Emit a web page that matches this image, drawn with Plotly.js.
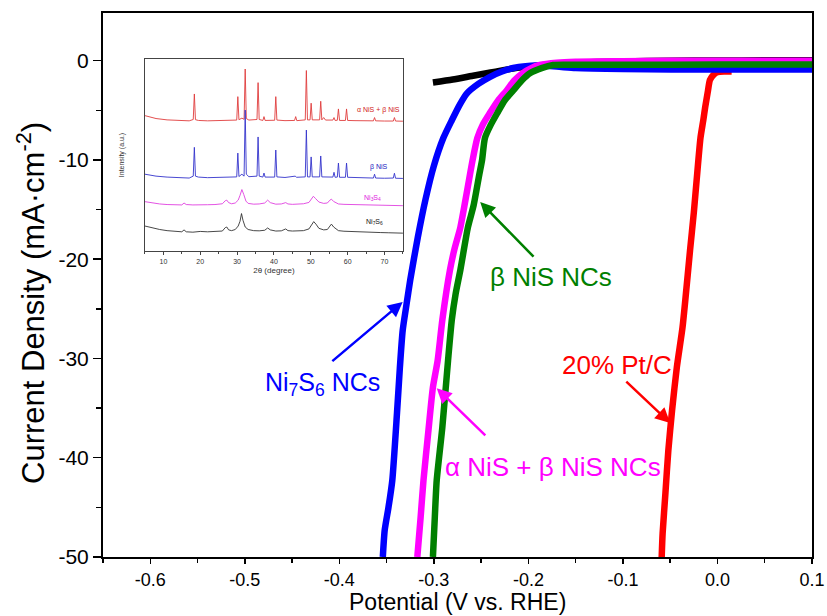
<!DOCTYPE html>
<html>
<head>
<meta charset="utf-8">
<script src="https://cdn.plot.ly/plotly-3.0.1.min.js"></script>
<style>html,body{margin:0;padding:0;background:#fff;}#chart{width:827px;height:616px;}</style>
</head>
<body>
<div id="chart"></div>
<script>
// ---- Main LSV curves (Potential V vs RHE, current density mA/cm2) ----
const blackV = [-0.301, -0.28, -0.26, -0.24, -0.22, -0.20, -0.18, -0.15, -0.10, -0.05, 0.00, 0.05, 0.10];
const blackJ = [-2.2, -1.9, -1.55, -1.2, -0.85, -0.6, -0.4, -0.2, -0.08, 0.0, 0.02, 0.03, 0.03];

const redV = [-0.059, -0.058, -0.055, -0.052, -0.048, -0.043, -0.037, -0.034, -0.029, -0.025, -0.022, -0.018, -0.015, -0.013, -0.010, -0.008, -0.004, 0.000, 0.008, 0.015];
const redJ = [-50, -47.6, -43.5, -39.3, -35.2, -30.9, -26.9, -24.1, -19.1, -15.3, -12.0, -7.8, -6.0, -4.7, -3.0, -1.95, -1.4, -1.15, -1.1, -1.1];

const blueV = [-0.354, -0.352, -0.348, -0.344, -0.339, -0.336, -0.333, -0.329, -0.325, -0.317, -0.309, -0.300, -0.290, -0.281, -0.273, -0.265, -0.253, -0.241, -0.228, -0.216, -0.203, -0.191, -0.17, -0.15, -0.10, 0.00, 0.10];
const blueJ = [-50, -47.3, -45.0, -42.3, -35.5, -31.0, -27.2, -24.6, -22.1, -17.8, -14.05, -10.6, -7.8, -6.0, -4.5, -3.3, -2.35, -1.65, -1.1, -0.74, -0.55, -0.5, -0.6, -0.75, -0.85, -0.9, -0.9];

const magV = [-0.3175, -0.314, -0.311, -0.306, -0.301, -0.296, -0.291, -0.283, -0.278, -0.272, -0.265, -0.259, -0.254, -0.248, -0.241, -0.232, -0.223, -0.215, -0.206, -0.197, -0.188, -0.17, -0.15, -0.10, 0.00, 0.10];
const magJ = [-50, -46.0, -42.3, -37.5, -32.9, -30.2, -26.1, -21.1, -18.9, -16.8, -13.2, -10.0, -7.8, -6.4, -5.3, -4.0, -3.0, -2.0, -1.25, -0.75, -0.44, -0.2, -0.1, -0.05, 0.0, 0.0];

const grnV = [-0.301, -0.299, -0.297, -0.291, -0.285, -0.281, -0.277, -0.272, -0.264, -0.258, -0.252, -0.249, -0.246, -0.240, -0.233, -0.225, -0.216, -0.207, -0.198, -0.186, -0.174, -0.15, -0.10, 0.00, 0.10];
const grnJ = [-50, -46.0, -42.3, -36.9, -30.2, -26.1, -23.5, -21.1, -16.8, -14.6, -11.5, -10.0, -7.8, -6.5, -5.3, -4.0, -3.0, -2.0, -1.25, -0.75, -0.44, -0.42, -0.42, -0.4, -0.4];

// ---- Inset XRD patterns (2theta in degrees, intensity a.u.) ----
const xrdBlackT = [5, 7, 9, 11, 13, 15, 15.6, 16.2, 18, 20, 22, 24, 26, 26.8, 27.2, 27.7, 28.5, 29.5, 30.3, 30.8, 31.2, 31.6, 32.2, 33, 34.5, 36, 37.5, 38.3, 39, 40.5, 42, 43.2, 43.8, 45, 46.5, 48, 49.5, 50.3, 50.8, 51.4, 52.2, 53.5, 54.5, 55.2, 55.6, 56.2, 57.5, 59, 61, 63, 65, 67, 69, 71, 73, 75];
const xrdBlackI = [13, 12, 11.2, 10.6, 10.2, 10, 11, 10, 9.8, 10.2, 10, 10.1, 10.4, 12.2, 12.5, 11, 10.6, 11.2, 13, 15.5, 19.5, 16, 12.5, 11.2, 10.6, 10.5, 10.8, 12, 11, 10.4, 10.5, 11.5, 10.6, 10.4, 10.5, 10.6, 11.5, 14, 15.3, 14, 11.8, 11, 11.2, 13, 14, 12.5, 10.6, 10.3, 10.1, 10, 9.8, 9.7, 9.6, 9.5, 9.4, 9.3];

const xrdMagT = [5, 7, 9, 11, 13, 15, 15.6, 16.2, 18, 20, 22, 24, 26, 26.8, 27.2, 27.7, 28.5, 29.5, 30.3, 30.8, 31.3, 31.8, 32.4, 33, 34.5, 36, 37.5, 38.3, 39, 40.5, 42, 43.2, 43.8, 45, 46.5, 48, 49.5, 50.2, 50.7, 51.3, 52.2, 53.5, 54.5, 55.2, 55.6, 56.2, 57.5, 59, 61, 63, 65, 67, 69, 71, 73, 75];
const xrdMagI = [25.7, 25, 24.5, 24.2, 24, 24, 25, 24.2, 24, 24.2, 24.1, 24.2, 24.6, 26.2, 26.5, 25.2, 24.6, 25, 26.5, 29, 32, 29.5, 26, 24.8, 24.4, 24.5, 25, 26.5, 25.2, 24.4, 24.5, 25.2, 24.5, 24.3, 24.4, 24.6, 25.3, 27.5, 28.5, 27.3, 25.5, 24.8, 25, 26.5, 27, 25.8, 24.5, 24.3, 24.2, 24, 23.9, 23.8, 23.8, 23.7, 23.6, 23.6];

const xrdBlueT = [5, 8, 11, 14, 17, 18.1, 18.4, 18.7, 19.5, 22, 25, 28, 29.9, 30.2, 30.5, 31.3, 31.9, 32.2, 32.5, 33.2, 35.4, 35.7, 36.0, 37.0, 37.3, 37.6, 39, 40.2, 40.5, 40.8, 43, 45.8, 46.1, 48.5, 48.8, 49.1, 49.8, 50.1, 50.4, 52.4, 52.7, 53.0, 56.0, 56.3, 56.6, 57.2, 57.5, 57.8, 59.4, 59.7, 60.0, 62, 64, 67.0, 67.3, 67.6, 70, 72.4, 72.7, 73.0, 75];
const xrdBlueI = [40, 39, 38.5, 38.2, 38, 39, 54, 39, 38.5, 38.2, 38.3, 38.2, 38.6, 51, 38.8, 40, 39, 73.4, 40, 38.7, 39, 59.4, 39, 38.5, 40.6, 38.5, 38.3, 38.5, 52.6, 38.6, 38.3, 39, 38.4, 38.6, 63, 38.6, 38.6, 49, 38.6, 38.6, 49.5, 38.6, 38.5, 41, 38.4, 38.5, 45.8, 38.4, 38.4, 45.8, 38.4, 38.2, 38.1, 38, 40, 38, 37.9, 38, 40.5, 37.9, 37.8];

const xrdRedT = [5, 8, 11, 14, 17, 18.1, 18.4, 18.7, 19.5, 22, 25, 28, 29.9, 30.2, 30.5, 31.3, 31.9, 32.2, 32.5, 33.2, 35.4, 35.7, 36.0, 37.0, 37.3, 37.6, 39, 40.2, 40.5, 40.8, 43, 45.6, 45.9, 46.2, 48.5, 48.8, 49.1, 49.8, 50.1, 50.4, 52.4, 52.7, 53.0, 53.5, 54, 56.0, 56.3, 56.6, 57.2, 57.5, 57.8, 59.4, 59.7, 60.0, 62, 64, 67.0, 67.3, 67.6, 70, 72.4, 72.7, 73.0, 75];
const xrdRedI = [70.5, 69, 68.3, 68, 67.8, 68.5, 81.8, 68.4, 68, 67.8, 67.9, 67.8, 68.2, 80.4, 68.4, 69.2, 68.6, 94.8, 69, 68.2, 68.5, 87.7, 68.5, 68, 70, 68, 67.9, 68.1, 80.4, 68.2, 67.9, 68, 70, 67.9, 68.3, 94, 68.3, 68.3, 77, 68.3, 68.3, 78, 68.3, 69.5, 68.2, 68.2, 69.5, 68, 68.1, 74, 68, 68, 74, 68, 67.9, 67.8, 67.8, 69.5, 67.8, 67.7, 67.7, 69.5, 67.7, 67.6];

// ---- Tick labels ----
const xTickVals = [-0.6, -0.5, -0.4, -0.3, -0.2, -0.1, 0.0, 0.1];
const xTickText = ['-0.6', '-0.5', '-0.4', '-0.3', '-0.2', '-0.1', '0.0', '0.1'];
const yTickVals = [0, -10, -20, -30, -40, -50];
const yTickText = ['0', '-10', '-20', '-30', '-40', '-50'];
const insetTickVals = [10, 20, 30, 40, 50, 60, 70];

const FONT = 'Liberation Sans, Arial, sans-serif';

function mainLine(x, y, color) {
  return {x: x, y: y, type: 'scatter', mode: 'lines', line: {color: color, width: 6.5, shape: 'spline', smoothing: 0.6},
          xaxis: 'x', yaxis: 'y', hoverinfo: 'skip'};
}
function xrdLine(x, y, color) {
  return {x: x, y: y, type: 'scatter', mode: 'lines', line: {color: color, width: 0.9}, xaxis: 'x2', yaxis: 'y2', hoverinfo: 'skip'};
}

const traces = [
  mainLine(blackV, blackJ, '#000000'),
  mainLine(redV, redJ, '#ff0000'),
  mainLine(blueV, blueJ, '#0000ff'),
  mainLine(magV, magJ, '#ff00ff'),
  mainLine(grnV, grnJ, '#008000'),
  xrdLine(xrdRedT, xrdRedI, '#e03c3c'),
  xrdLine(xrdBlueT, xrdBlueI, '#3333cc'),
  xrdLine(xrdMagT, xrdMagI, '#e040e0'),
  xrdLine(xrdBlackT, xrdBlackI, '#333333')
];

function arrow(x, y, ax, ay, color) {
  return {x: x, y: y, ax: ax, ay: ay, xref: 'x', yref: 'y', axref: 'x', ayref: 'y', text: '', showarrow: true,
          arrowhead: 2, arrowsize: 1.2, arrowwidth: 2.5, arrowcolor: color};
}
function label(x, y, text, color, size, xref, yref, xanchor) {
  return {x: x, y: y, xref: xref || 'x', yref: yref || 'y', text: text, showarrow: false,
          xanchor: xanchor || 'center', yanchor: 'middle', font: {family: FONT, size: size, color: color}};
}

const layout = {
  width: 827, height: 616,
  margin: {l: 103, r: 15, t: 13, b: 59},
  paper_bgcolor: '#ffffff', plot_bgcolor: '#ffffff',
  showlegend: false,
  font: {family: FONT, color: '#000'},
  xaxis: {
    domain: [0, 1], range: [-0.65, 0.1], tickmode: 'array', tickvals: xTickVals, ticktext: xTickText,
    ticks: 'outside', ticklen: 5, tickwidth: 1.5, tickcolor: '#000',
    minor: {dtick: 0.05, tick0: 0, ticks: 'outside', ticklen: 4, tickwidth: 1.5, tickcolor: '#000'},
    showline: true, linewidth: 2, linecolor: '#000', mirror: true, showgrid: false, zeroline: false,
    tickfont: {family: FONT, size: 18, color: '#000'}
  },
  yaxis: {
    domain: [0, 1], range: [-50, 4.8], tickmode: 'array', tickvals: yTickVals, ticktext: yTickText,
    ticks: 'outside', ticklen: 8, tickwidth: 1.5, tickcolor: '#000',
    minor: {dtick: 5, tick0: 0, ticks: 'outside', ticklen: 5, tickwidth: 1.5, tickcolor: '#000'},
    showline: true, linewidth: 2, linecolor: '#000', mirror: true, showgrid: false, zeroline: false,
    tickfont: {family: FONT, size: 21, color: '#000'}
  },
  xaxis2: {
    domain: [0.0592, 0.423], anchor: 'y2', range: [5, 75], tickmode: 'array', tickvals: insetTickVals,
    ticks: 'outside', ticklen: 3, tickwidth: 1, tickcolor: '#444',
    minor: {dtick: 5, tick0: 0, ticks: 'outside', ticklen: 2, tickwidth: 1, tickcolor: '#444'},
    showline: true, linewidth: 1.2, linecolor: '#444', mirror: true, showgrid: false, zeroline: false,
    tickfont: {family: FONT, size: 7, color: '#333'},
    title: {text: '2θ (degree)', font: {family: FONT, size: 8, color: '#333'}, standoff: 3}
  },
  yaxis2: {
    domain: [0.5625, 0.9154], anchor: 'x2', range: [0, 100], showticklabels: false, ticks: '',
    showline: true, linewidth: 1.2, linecolor: '#444', mirror: true, showgrid: false, zeroline: false,
    title: {text: 'Intensity (a.u.)', font: {family: FONT, size: 7, color: '#333'}, standoff: 18}
  },
  annotations: [
    {x: 0.5, y: -0.0836, xref: 'paper', yref: 'paper', xanchor: 'center', yanchor: 'middle', showarrow: false,
     text: 'Potential (V vs. RHE)', font: {family: FONT, size: 23, color: '#000'}},
    {x: -0.1015, y: 0.467, xref: 'paper', yref: 'paper', xanchor: 'center', yanchor: 'middle', showarrow: false,
     textangle: -90, text: 'Current Density (mA·cm<sup>-2</sup>)', font: {family: FONT, size: 31, color: '#000'}},
    arrow(-0.333, -24.3, -0.409, -30.4, '#0000ff'),
    arrow(-0.251, -14.25, -0.193, -19.9, '#008000'),
    arrow(-0.297, -33.0, -0.244, -37.9, '#ff00ff'),
    arrow(-0.050, -36.5, -0.098, -32.2, '#ff0000'),
    label(-0.418, -32.6, 'Ni<sub>7</sub>S<sub>6</sub> NCs', '#0000ff', 25),
    label(-0.176, -21.8, 'β NiS NCs', '#008000', 26),
    label(-0.174, -40.9, 'α NiS + β NiS NCs', '#ff00ff', 26),
    label(-0.106, -30.7, '20% Pt/C', '#ff0000', 26),
    label(74.8, 73.4, 'α NiS + β NiS', '#d02020', 7, 'x2', 'y2', 'right'),
    label(68.5, 43.8, 'β NiS', '#2020c0', 7, 'x2', 'y2'),
    label(66.8, 27.6, 'Ni<sub>3</sub>S<sub>4</sub>', '#e020e0', 7, 'x2', 'y2'),
    label(67.3, 15.3, 'Ni<sub>7</sub>S<sub>6</sub>', '#111111', 7, 'x2', 'y2')
  ]
};

Plotly.newPlot('chart', traces, layout, {displayModeBar: false, staticPlot: true});
</script>
</body>
</html>
